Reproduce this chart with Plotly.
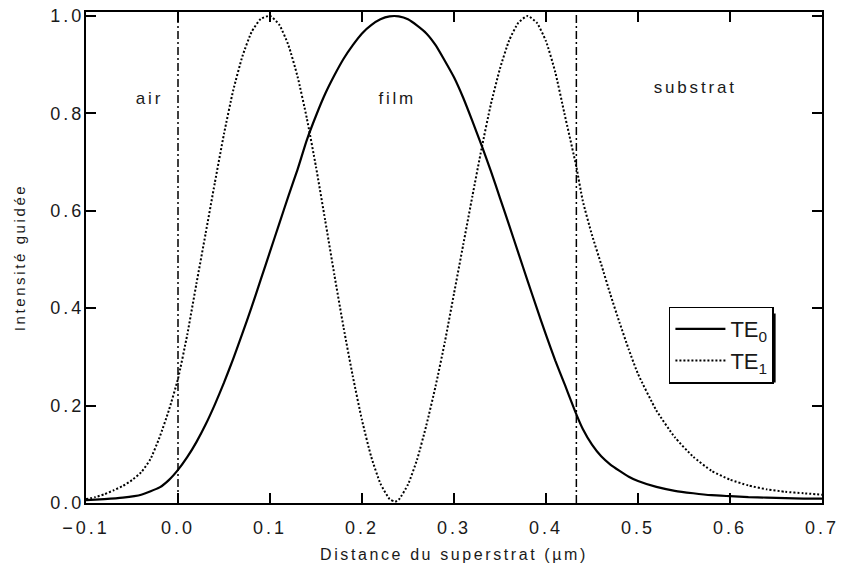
import plotly.graph_objects as go

# ---- data ----
x_te0 = [-0.10, -0.08, -0.06, -0.04, -0.02, -0.01, 0.00, 0.01, 0.02, 0.03, 0.04, 0.05, 0.06, 0.07,
         0.08, 0.09, 0.10, 0.11, 0.12, 0.13, 0.14, 0.15, 0.16, 0.17, 0.18, 0.19, 0.20, 0.21,
         0.22, 0.23, 0.24, 0.25, 0.26, 0.27, 0.28, 0.29, 0.30, 0.31, 0.32, 0.33, 0.34, 0.35,
         0.36, 0.37, 0.38, 0.39, 0.40, 0.41, 0.42, 0.433, 0.44, 0.45, 0.46, 0.47, 0.48, 0.49,
         0.50, 0.52, 0.54, 0.56, 0.58, 0.60, 0.62, 0.64, 0.66, 0.68, 0.70]
y_te0 = [0.006, 0.008, 0.011, 0.017, 0.032, 0.047, 0.068, 0.094, 0.125, 0.161, 0.202, 0.247, 0.296, 0.348,
         0.402, 0.459, 0.516, 0.573, 0.63, 0.685, 0.745, 0.795, 0.84, 0.878, 0.912, 0.94, 0.964, 0.981,
         0.993, 0.999, 0.999, 0.993, 0.98, 0.964, 0.94, 0.908, 0.874, 0.832, 0.784, 0.734, 0.682, 0.626,
         0.57, 0.513, 0.456, 0.40, 0.345, 0.293, 0.245, 0.182, 0.152, 0.12, 0.096, 0.079, 0.066, 0.054,
         0.045, 0.033, 0.025, 0.020, 0.016, 0.014, 0.012, 0.011, 0.010, 0.009, 0.009]

x_te1 = [-0.10, -0.09, -0.08, -0.07, -0.06, -0.05, -0.04, -0.03, -0.02, -0.01, 0.00, 0.01, 0.02,
         0.03, 0.04, 0.05, 0.06, 0.07, 0.08, 0.09, 0.10, 0.11, 0.12, 0.13, 0.14, 0.15, 0.16,
         0.17, 0.18, 0.19, 0.20, 0.21, 0.22, 0.23, 0.236, 0.24, 0.25, 0.26, 0.27, 0.28, 0.29,
         0.30, 0.31, 0.32, 0.33, 0.34, 0.35, 0.36, 0.37, 0.38, 0.39, 0.40, 0.41, 0.42, 0.433,
         0.44, 0.45, 0.46, 0.47, 0.48, 0.49, 0.50, 0.52, 0.54, 0.56, 0.58, 0.60, 0.62, 0.64,
         0.66, 0.68, 0.70]
y_te1 = [0.008, 0.012, 0.018, 0.026, 0.035, 0.047, 0.063, 0.09, 0.135, 0.19, 0.255, 0.345, 0.45,
         0.553, 0.657, 0.758, 0.847, 0.917, 0.967, 0.994, 1.0, 0.982, 0.94, 0.875, 0.79, 0.69, 0.58,
         0.468, 0.36, 0.26, 0.17, 0.095, 0.04, 0.008, 0.003, 0.007, 0.038, 0.09, 0.16, 0.24, 0.33,
         0.43, 0.53, 0.63, 0.728, 0.818, 0.892, 0.95, 0.986, 1.0, 0.986, 0.948, 0.885, 0.80, 0.69,
         0.62, 0.55, 0.49, 0.428, 0.37, 0.315, 0.265, 0.19, 0.135, 0.095, 0.066, 0.048, 0.036, 0.028,
         0.023, 0.020, 0.017]

interfaces = [0.0, 0.433]
regions = ["air", "film", "substrat"]
region_x = [-0.031, 0.238, 0.562]
region_y = [0.83, 0.83, 0.852]
x_ticks = [-0.1, 0.0, 0.1, 0.2, 0.3, 0.4, 0.5, 0.6, 0.7]
y_ticks = [0.0, 0.2, 0.4, 0.6, 0.8, 1.0]

FONT = "Liberation Sans, Arial, sans-serif"
INK = "#1a1a1a"

fig = go.Figure()
fig.add_trace(go.Scatter(x=x_te0, y=y_te0, mode="lines", name="TE<sub>0</sub>",
                         line=dict(color="black", width=2.2, shape="spline", smoothing=0.5)))
fig.add_trace(go.Scatter(x=x_te1, y=y_te1, mode="lines", name="TE<sub>1</sub>",
                         line=dict(color="black", width=2, dash="2px,2px", shape="spline", smoothing=0.5)))

for xi in interfaces:
    fig.add_shape(type="line", xref="x", yref="paper", x0=xi, x1=xi, y0=0, y1=1,
                  line=dict(color="black", width=1.5, dash="8px,3px,2px,3px"), layer="below")

# legend drop shadow (offset rectangle behind the legend box)
fig.add_shape(type="rect", xref="paper", yref="paper", x0=0.795, x1=0.937, y0=0.2455, y1=0.386,
              line=dict(width=0), fillcolor="black", layer="above")

for t, xx, yy in zip(regions, region_x, region_y):
    fig.add_annotation(x=xx, y=yy, text=t, showarrow=False,
                       font=dict(family=FONT, size=17, color=INK))

axis_common = dict(showgrid=False, zeroline=False, showline=True, linecolor="black", linewidth=2,
                   mirror="ticks", ticks="inside", ticklen=10, tickwidth=1.5, tickcolor="black",
                   tickfont=dict(family=FONT, size=18, color=INK))

fig.update_xaxes(range=[-0.1, 0.7], tickvals=x_ticks, tickformat=".1f", ticklabelstandoff=7,
                 title=dict(text="Distance du superstrat (µm)", font=dict(family=FONT, size=16, color=INK),
                            standoff=12),
                 **axis_common)
fig.update_yaxes(range=[0, 1.008], tickvals=y_ticks, tickformat=".1f", ticklabelstandoff=-4,
                 title=dict(text="Intensité guidée", font=dict(family=FONT, size=15, color=INK),
                            standoff=30),
                 **axis_common)

fig.update_layout(
    width=841, height=573,
    margin=dict(l=86, r=14, t=6, b=70),
    paper_bgcolor="white", plot_bgcolor="white",
    showlegend=True,
    legend=dict(x=0.792, y=0.40, xanchor="left", yanchor="top",
                bgcolor="white", bordercolor="black", borderwidth=1.5,
                font=dict(family=FONT, size=22, color=INK), itemwidth=50),
)

post = """
document.body.style.margin='0';
document.body.style.overflow='hidden';
var gd = document.getElementById('{plot_id}');
function spacing(){
  gd.querySelectorAll('.xtick text, .ytick text').forEach(function(t){t.style.letterSpacing='3px';});
  gd.querySelectorAll('.xtitle, .ytitle').forEach(function(t){t.style.letterSpacing='2.6px';});
  gd.querySelectorAll('.annotation-text').forEach(function(t){t.style.letterSpacing='2.8px';});
}
spacing();
gd.on('plotly_afterplot', spacing);
"""

fig.write_html("out.html", post_script=post, config={"displayModeBar": False})
